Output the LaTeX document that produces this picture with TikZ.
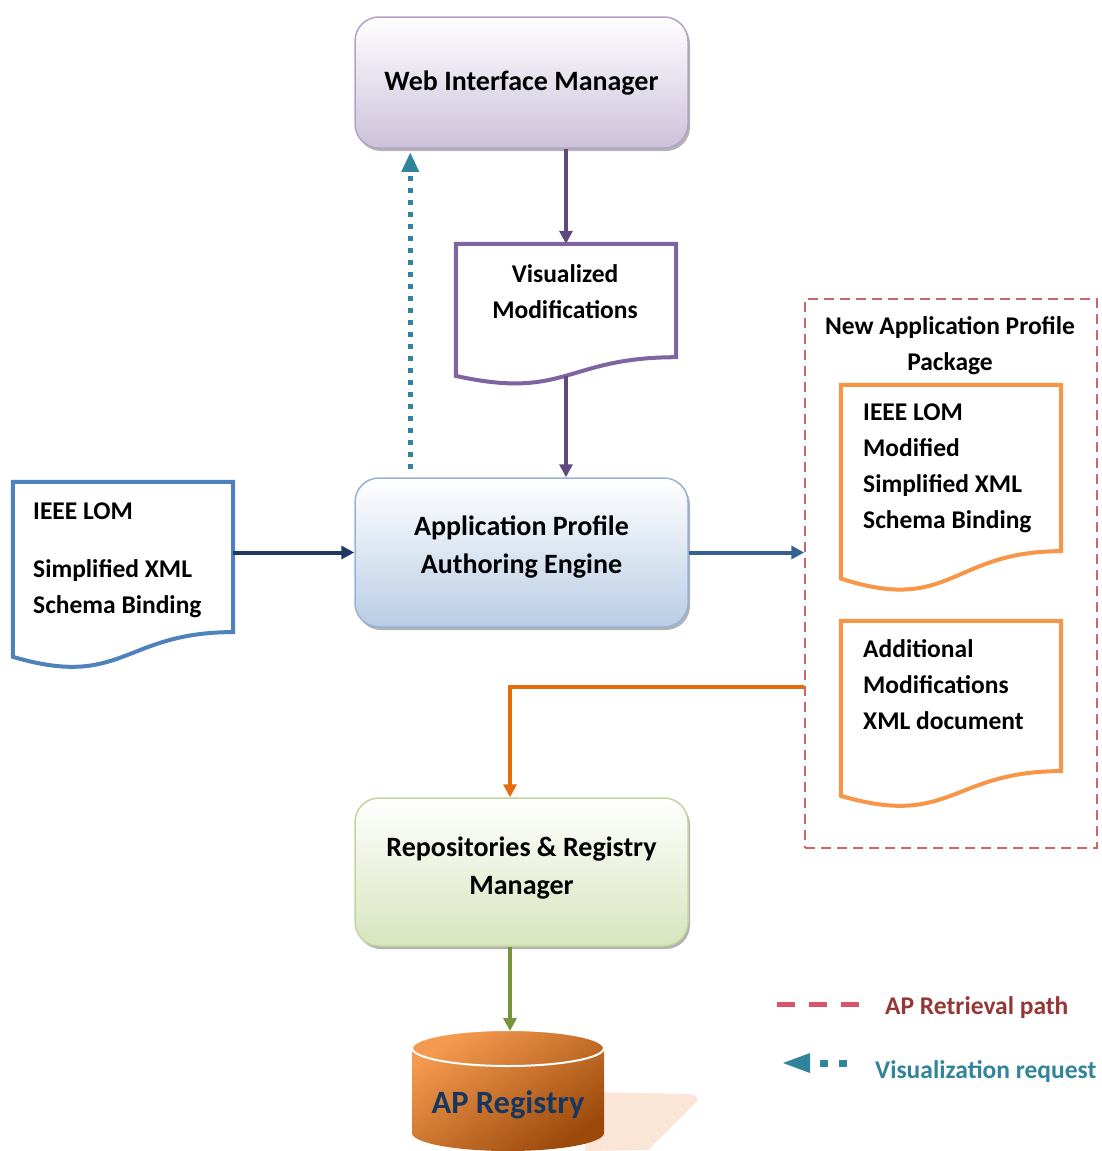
\documentclass[tikz,border=0pt]{standalone}
\usepackage{fontspec}
\setmainfont{Carlito}
\usetikzlibrary{arrows.meta,calc,shadows}

\definecolor{lavLine}{HTML}{B3A2C7}
\definecolor{lavFill}{HTML}{CCC1DA}
\definecolor{plum}{HTML}{604A7B}
\definecolor{violet}{HTML}{8064A2}
\definecolor{tealA}{HTML}{31849B}
\definecolor{skyLine}{HTML}{95B3D7}
\definecolor{skyFill}{HTML}{B9CDE5}
\definecolor{steel}{HTML}{4F81BD}
\definecolor{navy}{HTML}{1F3864}
\definecolor{denim}{HTML}{376092}
\definecolor{brick}{HTML}{D06565}
\definecolor{tangerine}{HTML}{F79646}
\definecolor{rust}{HTML}{E46C0A}
\definecolor{sageLine}{HTML}{C3D69B}
\definecolor{sageFill}{HTML}{D7E4BD}
\definecolor{olive}{HTML}{77933C}
\definecolor{drumDark}{HTML}{9C4A0C}
\definecolor{drumLight}{HTML}{F49A4E}
\definecolor{ink}{HTML}{17375E}
\definecolor{peach}{HTML}{FBE5D6}
\definecolor{rose}{HTML}{D9536A}
\definecolor{maroon}{HTML}{953735}

\newcommand\boxfont{\fontsize{28}{38}\selectfont\bfseries}
\newcommand\docfont{\fontsize{25.5}{36}\selectfont\bfseries}

% wavy-bottom document outline drawn around a named node
\newcommand\docoutline[2]{%
  \draw[line width=4pt, line join=miter, #2]
    (#1.north west) -- (#1.north east)
    -- ($(#1.north east)!0.802!(#1.south east)$)
    .. controls ($(#1.north)!0.802!(#1.south)$) and ($(#1.north)!1.1075!(#1.south)$)
    .. ($(#1.north west)!0.934!(#1.south west)$) -- cycle;}

\tikzset{
  procbox/.style={rounded corners=24pt, minimum width=333pt, line width=1.5pt,
    inner sep=0pt,
    drop shadow={shadow xshift=2pt, shadow yshift=-3pt, fill=black, opacity=0.3}},
  boxtext/.style={align=center, font=\boxfont, inner sep=0pt},
  docarea/.style={minimum width=220pt, inner sep=0pt, draw=none},
  doctext/.style={anchor=north west, align=left, font=\docfont, inner sep=0pt},
  flow/.style={line width=4pt, -{Triangle[length=13pt,width=13pt]}},
}

\begin{document}
\begin{tikzpicture}[x=1pt,y=-1pt]
\useasboundingbox (0,0) rectangle (1101,1151);

% process boxes
\node[procbox, draw=lavLine, top color=white, bottom color=lavFill, minimum height=131pt]
  (wim) at (521.5,82.5) {};
\node[boxtext] (wimtext) at (521.5,83) {Web Interface Manager};
\node[procbox, draw=skyLine, top color=white, bottom color=skyFill, minimum height=149pt]
  (eng) at (521.5,552.5) {};
\node[boxtext] (engtext) at (521.5,547) {Application Profile\\Authoring Engine};
\node[procbox, draw=sageLine, top color=white, bottom color=sageFill, minimum height=148pt]
  (repo) at (521.5,872) {};
\node[boxtext] (repotext) at (521.5,868.5) {Repositories \& Registry\\Manager};

% documents
\node[docarea, minimum height=141pt] (vis) at (566,314.5) {};
\docoutline{vis}{violet}
\node[align=center, font=\docfont, inner sep=0pt] (vistext) at (565,292) {Visualized\\Modifications};

\node[docarea, minimum height=187pt] (lom) at (123,575.5) {};
\docoutline{lom}{steel}
\node[doctext] (lomtext) at (33,503) {IEEE LOM\\[22pt]Simplified XML\\Schema Binding};

% package of outputs
\node[draw=brick, dashed, dash pattern=on 10pt off 6pt, line width=1.5pt,
      minimum width=292pt, minimum height=549pt, inner sep=0pt] (pkg) at (951,573.5) {};
\node[align=center, font=\docfont, inner sep=0pt] (pkgtitle) at (950,346)
  {New Application Profile\\Package};

\node[docarea, minimum height=207pt] (mod) at (951,488.5) {};
\docoutline{mod}{tangerine}
\node[doctext] (modtext) at (863,404) {IEEE LOM\\Modified\\Simplified XML\\Schema Binding};

\node[docarea, minimum height=187pt] (add) at (951,714.5) {};
\docoutline{add}{tangerine}
\node[doctext] (addtext) at (863,639) {Additional\\Modifications\\XML document};

% registry drum and its shadow
\fill[peach] (585,1092) -- (688,1094) .. controls (700,1095) and (700,1101) .. (692,1106)
  -- (648,1150) -- (585,1151) -- cycle;
\shade[shading=axis, top color=drumLight, bottom color=drumDark, shading angle=35]
  (412,1048) -- (412,1133) arc[start angle=180, end angle=0, x radius=96, y radius=18]
  -- (604,1048) arc[start angle=0, end angle=-180, x radius=96, y radius=18] -- cycle;
\draw[white, line width=2pt] (508,1048) ellipse[x radius=96, y radius=18];
\node[font=\fontsize{32.5}{36}\selectfont\bfseries, text=ink, inner sep=0pt] (reg) at (508,1105) {AP Registry};
\coordinate (regtop) at (510,1031);

% connectors
\draw[flow, plum] (vis.north |- wim.south) -- (vis.north);
\coordinate (visb) at ($(vis.north)!0.933!(vis.south)$);
\draw[flow, plum] (visb) -- (visb |- eng.north);

\coordinate (req) at ($(eng.north west)+(56,-8)$);
\draw[tealA, line width=5pt, dash pattern=on 5pt off 7pt] (req) -- ($(req |- wim.south)+(0,24)$);
\fill[tealA] ($(req |- wim.south)+(0,4)$) -- ++(-9,19) -- ++(18,0) -- cycle;

\draw[flow, navy] (lom.east |- eng.west) -- (eng.west);
\draw[flow, denim] (eng.east) -- (eng.east -| pkg.west);

\coordinate (turn) at (510,687);
\draw[flow, rust] (turn -| pkg.west) -- (turn) -- (turn |- repo.north);
\draw[flow, olive] (turn |- repo.south) -- (regtop);

% legend
\coordinate (lgA) at (777,1004);
\draw[rose, line width=5pt, dash pattern=on 18pt off 14pt] (lgA) -- ++(83,0);
\node[anchor=west, font=\docfont, text=maroon, inner sep=0pt] (lgAtext) at (885,1008) {AP Retrieval path};
\coordinate (lgB) at (783,1063);
\fill[tealA] (lgB) -- ++(27,-10) -- ++(0,20) -- cycle;
\draw[tealA, line width=7pt] (820,1063) -- (828,1063) (839,1063) -- (847,1063);
\node[anchor=west, font=\docfont, text=tealA, inner sep=0pt] (lgBtext) at (875,1072) {Visualization request};
\end{tikzpicture}
\end{document}
